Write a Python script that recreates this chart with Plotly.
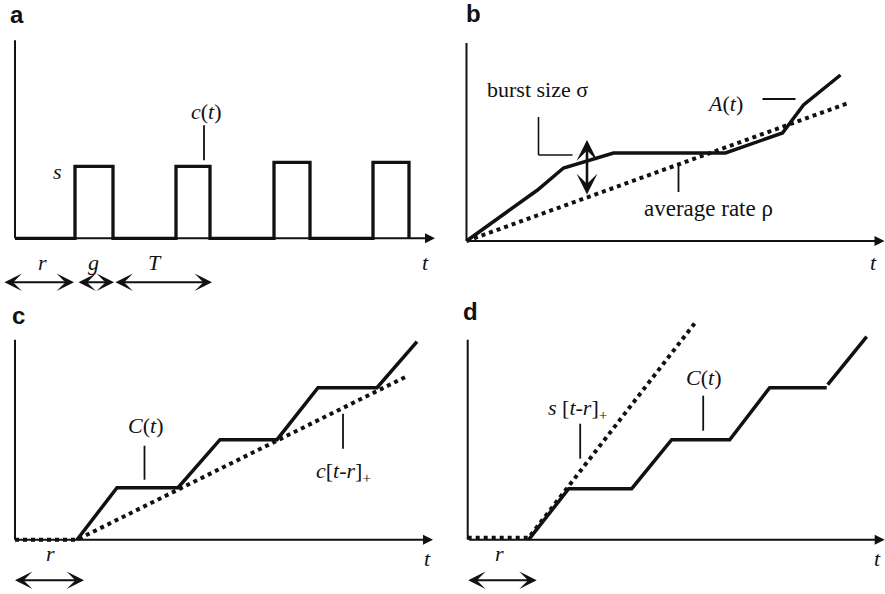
import plotly.graph_objects as go

# ---------------- data (1 unit ~ 1 px, origin at each panel's axes corner)
# Panel a: pulse train c(t)
a_t = [0, 60, 60, 98, 98, 161, 161, 195, 195, 259, 259, 295, 295, 358, 358, 394, 394]
a_c = [0, 0, 72, 72, 0, 0, 72, 72, 0, 0, 76, 76, 0, 0, 76, 76, 0]

# Panel b: arrival curve A(t) and average-rate line
b_t = [0, 71, 97, 147, 259, 316, 337, 374]
b_A = [0, 51, 73, 88, 88, 108, 136, 166]
b_rate_t = [0, 382]
b_rate = [0, 138]

# Panel c: cumulative service C(t) and c[t-r]+
c_t = [62, 102, 163, 205, 262, 303, 362, 402]
c_C = [0, 52, 52, 100, 100, 152, 152, 198]
c_lin_t = [0, 62, 393]
c_lin = [0, 0, 164]

# Panel d: cumulative service C(t) and s[t-r]+
d_t = [61, 101, 164, 204, 262, 302, 359, None, 360, 399]
d_C = [0, 51, 51, 100, 100, 152, 152, None, 155, 203]
d_lin_t = [0, 61, 229]
d_lin = [2, 2, 219]

W, H = 885, 594
INK = "#111111"
SERIF = "'Liberation Serif', 'Times New Roman', Times, 'DejaVu Serif', serif"
SANS = "'Liberation Sans', Arial, sans-serif"

fig = go.Figure()

# panel geometry: (xaxis id, yaxis id, x domain, y domain, x range, y range)
panels = {
    "a": ("x", "y", [0, 440 / W], [0.5, 1], [-15, 425], [-58.7, 238.3]),
    "b": ("x2", "y2", [440 / W, 1], [0.5, 1], [-26.5, 418.5], [-56, 241]),
    "c": ("x3", "y3", [0, 440 / W], [0, 0.5], [-15, 425], [-54.3, 242.7]),
    "d": ("x4", "y4", [440 / W, 1], [0, 0.5], [-27.7, 417.3], [-54.3, 242.7]),
}

layout_axes = {}
for key, (xa, ya, xd, yd, xr, yr) in panels.items():
    xn = "xaxis" + xa[1:]
    yn = "yaxis" + ya[1:]
    layout_axes[xn] = dict(domain=xd, range=xr, visible=False, fixedrange=True, anchor=ya)
    layout_axes[yn] = dict(domain=yd, range=yr, visible=False, fixedrange=True, anchor=xa)


def line(key, x, y, width=3.2, dash="solid"):
    xa, ya = panels[key][0], panels[key][1]
    fig.add_trace(go.Scatter(x=x, y=y, xaxis=xa, yaxis=ya, mode="lines",
                             line=dict(color=INK, width=width, dash=dash),
                             hoverinfo="skip", showlegend=False))


# data lines
line("a", a_t, a_c, 3.3)
line("b", b_rate_t, b_rate, 4, "dot")
line("b", b_t, b_A, 3.5)
line("c", c_lin_t, c_lin, 4, "dot")
line("c", c_t, c_C, 3.5)
line("d", d_lin_t, d_lin, 4, "dot")
line("d", d_t, d_C, 3.5)

annotations = []
shapes = []


def seg(key, x0, y0, x1, y1, width=1.8):
    xa, ya = panels[key][0], panels[key][1]
    shapes.append(dict(type="line", xref=xa, yref=ya, x0=x0, y0=y0, x1=x1, y1=y1,
                       line=dict(color=INK, width=width)))


def arrow(key, x0, y0, x1, y1, both=False, width=2, size=1.0, head=3):
    xa, ya = panels[key][0], panels[key][1]
    annotations.append(dict(xref=xa, yref=ya, axref=xa, ayref=ya, x=x1, y=y1, ax=x0, ay=y0,
                            text="", showarrow=True, arrowhead=head, startarrowhead=head,
                            arrowsize=size, startarrowsize=size, arrowwidth=width,
                            arrowcolor=INK, standoff=0, startstandoff=0,
                            arrowside="end+start" if both else "end"))


def label(key, x, y, text, size=22, family=SERIF, bold=False):
    xa, ya = panels[key][0], panels[key][1]
    annotations.append(dict(xref=xa, yref=ya, x=x, y=y, text=("<b>%s</b>" % text) if bold else text,
                            showarrow=False, font=dict(family=family, size=size, color=INK),
                            xanchor="center", yanchor="middle"))


# axes for every panel
ytops = {"a": 198, "b": 198, "c": 200, "d": 200}
xends = {"a": 420, "b": 418, "c": 418, "d": 417}
for k in panels:
    seg(k, 0, 0, 0, ytops[k], 2)
    arrow(k, 0, 0, xends[k], 0, width=2, size=1.0, head=2)

# panel letters
label("a", 2, 224, "a", 24, SANS, True)
label("b", 7, 228, "b", 24, SANS, True)
label("c", 3, 224, "c", 24, SANS, True)
label("d", 2.3, 228, "d", 24, SANS, True)

# panel a annotations
HS = 1.45
label("a", 42, 67, "<i>s</i>")
label("a", 191, 127, "<i>c</i>(<i>t</i>)")
seg("a", 189, 113, 189, 78, 1.8)
arrow("a", -12, -44, 59, -44, both=True, width=2, size=HS)
arrow("a", 62, -44, 99, -44, both=True, width=2, size=HS)
arrow("a", 99, -44, 197, -44, both=True, width=2, size=HS)
label("a", 27, -24, "<i>r</i>")
label("a", 78, -24, "<i>g</i>")
label("a", 140, -24, "<i>T</i>")
label("a", 410, -24, "<i>t</i>")

# panel b annotations
label("b", 70.5, 152, "burst size σ", 22)
seg("b", 72, 124, 72, 86, 1.6)
seg("b", 72, 86, 106, 86, 1.6)
arrow("b", 120.5, 45, 120.5, 101, both=True, width=2.6, size=1.35)
label("b", 258, 138, "<i>A</i>(<i>t</i>)")
seg("b", 296, 142, 329, 142, 1.8)
label("b", 242, 33, "average rate ρ", 23)
seg("b", 212, 78, 212, 49, 1.8)
label("b", 407, -21, "<i>t</i>")

# panel c annotations
label("c", 130, 114, "<i>C</i>(<i>t</i>)")
seg("c", 129.5, 94, 129.5, 60, 1.8)
label("c", 328, 68, "<i>c</i>[<i>t</i>-<i>r</i>]<sub>+</sub>")
seg("c", 328, 126, 328, 91, 1.8)
arrow("c", -1.5, -40.6, 69, -40.6, both=True, width=2, size=HS)
label("c", 35, -14, "<i>r</i>")
label("c", 412, -18.5, "<i>t</i>")

# panel d annotations
label("d", 110, 131, "<i>s</i> [<i>t</i>-<i>r</i>]<sub>+</sub>")
seg("d", 112.5, 116, 112.5, 81, 1.8)
label("d", 235.5, 162, "<i>C</i>(<i>t</i>)")
seg("d", 235.5, 144, 235.5, 109, 1.8)
arrow("d", -1, -40.6, 69, -40.6, both=True, width=2, size=HS)
label("d", 32, -14, "<i>r</i>")
label("d", 410, -18.5, "<i>t</i>")

fig.update_layout(
    width=W, height=H,
    margin=dict(l=0, r=0, t=0, b=0),
    paper_bgcolor="white", plot_bgcolor="white",
    showlegend=False,
    annotations=annotations,
    shapes=shapes,
    **layout_axes,
)

fig.write_html("out.html", config={"displayModeBar": False},
               post_script="document.body.style.margin='0';document.body.style.padding='0';")
